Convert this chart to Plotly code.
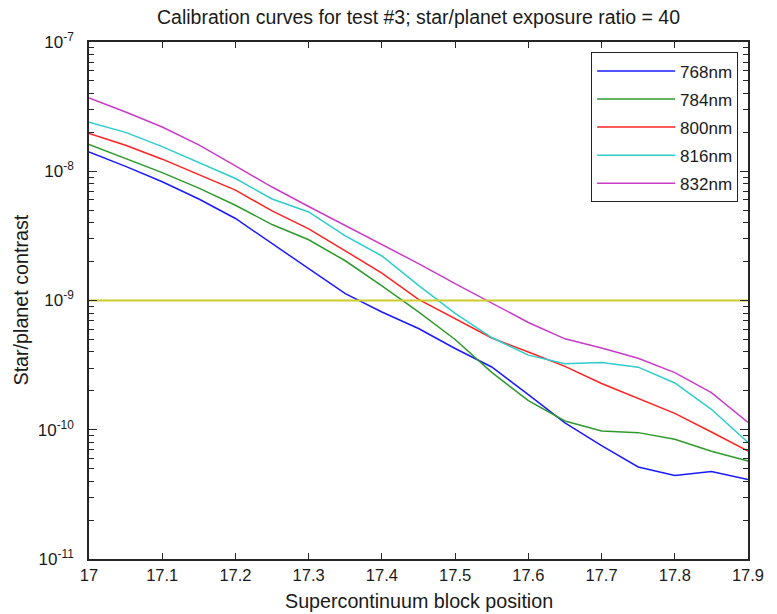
import plotly.graph_objects as go

# Supercontinuum block position (x) and measured star/planet contrast per wavelength
position = [17.0, 17.05, 17.1, 17.15, 17.2, 17.25, 17.3, 17.35, 17.4, 17.45,
            17.5, 17.55, 17.6, 17.65, 17.7, 17.75, 17.8, 17.85, 17.9]

contrast_768 = [1.41e-8, 1.09e-8, 8.29e-9, 6.10e-9, 4.31e-9, 2.75e-9, 1.77e-9, 1.13e-9, 8.15e-10, 6.07e-10,
                4.25e-10, 3.06e-10, 1.87e-10, 1.13e-10, 7.55e-11, 5.15e-11, 4.43e-11, 4.75e-11, 4.12e-11]
contrast_784 = [1.61e-8, 1.26e-8, 9.76e-9, 7.41e-9, 5.46e-9, 3.87e-9, 2.95e-9, 2.03e-9, 1.30e-9, 8.16e-10,
                4.99e-10, 2.78e-10, 1.68e-10, 1.17e-10, 9.78e-11, 9.50e-11, 8.44e-11, 6.81e-11, 5.73e-11]
contrast_800 = [1.96e-8, 1.59e-8, 1.24e-8, 9.47e-9, 7.14e-9, 4.93e-9, 3.58e-9, 2.42e-9, 1.63e-9, 1.02e-9,
                7.26e-10, 5.13e-10, 4.00e-10, 3.09e-10, 2.28e-10, 1.74e-10, 1.34e-10, 9.61e-11, 6.85e-11]
contrast_816 = [2.40e-8, 2.00e-8, 1.55e-8, 1.17e-8, 8.79e-9, 6.10e-9, 4.84e-9, 3.16e-9, 2.21e-9, 1.31e-9,
                7.96e-10, 5.17e-10, 3.78e-10, 3.24e-10, 3.31e-10, 3.05e-10, 2.30e-10, 1.44e-10, 7.97e-11]
contrast_832 = [3.69e-8, 2.87e-8, 2.20e-8, 1.60e-8, 1.10e-8, 7.55e-9, 5.34e-9, 3.80e-9, 2.70e-9, 1.93e-9,
                1.35e-9, 9.57e-10, 6.76e-10, 5.05e-10, 4.29e-10, 3.57e-10, 2.77e-10, 1.94e-10, 1.14e-10]

series_names = ["768nm", "784nm", "800nm", "816nm", "832nm"]
series_values = [contrast_768, contrast_784, contrast_800, contrast_816, contrast_832]
series_colors = ["#1a1aff", "#2e9a2e", "#ff2222", "#2ecccc", "#c83cc8"]

# Target contrast level
threshold = 1e-9
threshold_color = "#cccc2a"

x_ticks = [17.0, 17.1, 17.2, 17.3, 17.4, 17.5, 17.6, 17.7, 17.8, 17.9]
x_ticktext = ["17", "17.1", "17.2", "17.3", "17.4", "17.5", "17.6", "17.7", "17.8", "17.9"]
y_exponents = [-11, -10, -9, -8, -7]

FONT = "Liberation Sans, Arial, sans-serif"
AXIS_COLOR = "#262626"
TEXT_COLOR = "#1a1a1a"

# Figure geometry (px)
W, H = 777, 614
ML, MR, MT, MB = 89, 29, 42, 55
PLOT_W, PLOT_H = W - ML - MR, H - MT - MB

fig = go.Figure()

for name, vals, col in zip(series_names, series_values, series_colors):
    fig.add_trace(go.Scatter(
        x=position, y=vals, mode="lines", name=name,
        line=dict(color=col, width=1.5),
        legendgroup=name,
    ))

fig.add_trace(go.Scatter(
    x=[position[0], position[-1]], y=[threshold, threshold],
    mode="lines", line=dict(color=threshold_color, width=2),
    showlegend=False, hoverinfo="skip",
))

minor_vals = [k * 10.0 ** e for e in y_exponents[:-1] for k in range(2, 10)]

fig.update_layout(
    width=W, height=H,
    margin=dict(l=ML, r=MR, t=MT, b=MB),
    paper_bgcolor="white", plot_bgcolor="white",
    font=dict(family=FONT, size=16, color=TEXT_COLOR),
    title=dict(
        text="Calibration curves for test #3; star/planet exposure ratio = 40",
        x=(ML + ML + PLOT_W) / 2 / W, xanchor="center",
        y=1 - 17 / H, yanchor="middle",
        font=dict(family=FONT, size=19.5, color=TEXT_COLOR),
    ),
    showlegend=True,
    legend=dict(
        x=0.985, xanchor="right", y=0.98, yanchor="top",
        bgcolor="white", bordercolor="#222222", borderwidth=1,
        font=dict(family=FONT, size=17, color=TEXT_COLOR),
        tracegroupgap=3,
        itemwidth=78,
    ),
    xaxis=dict(
        range=[17.0, 17.9], automargin=False,
        tickvals=x_ticks, ticktext=x_ticktext,
        ticks="inside", ticklen=6, tickcolor=AXIS_COLOR, tickwidth=1,
        showline=True, linecolor=AXIS_COLOR, linewidth=1.5, mirror="ticks",
        showgrid=False, zeroline=False,
        tickfont=dict(family=FONT, size=16.5),
    ),
    yaxis=dict(
        type="log", range=[-11, -7], automargin=False,
        tickvals=[10.0 ** e for e in y_exponents],
        ticktext=["10<sup>%d</sup>" % e for e in y_exponents],
        ticks="inside", ticklen=8, tickcolor=AXIS_COLOR, tickwidth=1,
        ticklabelstandoff=10,
        minor=dict(tickvals=minor_vals, ticks="inside", ticklen=5,
                   tickcolor=AXIS_COLOR, tickwidth=1, showgrid=False),
        showline=True, linecolor=AXIS_COLOR, linewidth=1.5, mirror="ticks",
        showgrid=False, zeroline=False,
        tickfont=dict(family=FONT, size=17),
    ),
    annotations=[
        dict(text="Supercontinuum block position", xref="paper", yref="paper",
             x=0.5, y=-(601 - (H - MB)) / PLOT_H, xanchor="center", yanchor="middle",
             showarrow=False, font=dict(family=FONT, size=19.7, color=TEXT_COLOR)),
        dict(text="Star/planet contrast", xref="paper", yref="paper",
             x=(20 - ML) / PLOT_W, y=0.5, xanchor="center", yanchor="middle",
             textangle=-90, showarrow=False,
             font=dict(family=FONT, size=19.7, color=TEXT_COLOR)),
    ],
)

fig.write_html("out.html")
